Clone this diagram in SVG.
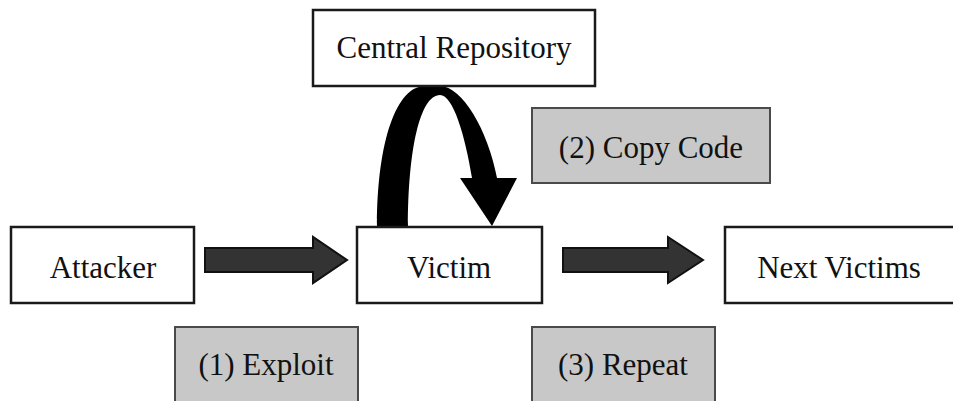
<svg xmlns="http://www.w3.org/2000/svg" width="953" height="401" viewBox="0 0 953 401">
<style>
.box{fill:#fff;stroke:#1a1a1a;stroke-width:2.5}
.lab{fill:#c8c8c8;stroke:#4a4a4a;stroke-width:2}
text{font-family:"Liberation Serif","Times New Roman",serif;font-size:31px;fill:#111;text-anchor:middle}
.arr{fill:#333;stroke:#111;stroke-width:2;stroke-linejoin:miter}
</style>
<rect width="953" height="401" fill="#fff"/>
<g id="connectors">
<path class="arr" d="M205,248 L313,248 L313,237 L347,260 L313,283 L313,272 L205,272 Z"/>
<path class="arr" d="M563,248 L668,248 L668,237 L703,260 L668,283 L668,272 L563,272 Z"/>
<path fill="#000" d="M377,227 C377,140 397,86 425,86 L440,86 C462,86 488,130 497,178 L517,178 L492,226 L460,178 L472,178 C465,135 453,95 440,95 C420,95 408,150 408,227 Z"/>
</g>
<g id="central">
<rect class="box" x="313" y="10" width="282" height="76"/>
<text x="454" y="58">Central Repository</text>
</g>
<g id="copy">
<rect class="lab" x="532" y="108" width="238" height="75"/>
<text x="651" y="158">(2) Copy Code</text>
</g>
<g id="attacker">
<rect class="box" x="11" y="227" width="183" height="76"/>
<text x="103" y="278">Attacker</text>
</g>
<g id="victim">
<rect class="box" x="357" y="227" width="185" height="76"/>
<text x="449" y="278">Victim</text>
</g>
<g id="next">
<rect class="box" x="725" y="227" width="240" height="76"/>
<text x="839" y="278">Next Victims</text>
</g>
<g id="exploit">
<rect class="lab" x="175" y="327" width="183" height="85"/>
<text x="266" y="375">(1) Exploit</text>
</g>
<g id="repeat">
<rect class="lab" x="532" y="327" width="183" height="85"/>
<text x="623" y="375">(3) Repeat</text>
</g>
</svg>
